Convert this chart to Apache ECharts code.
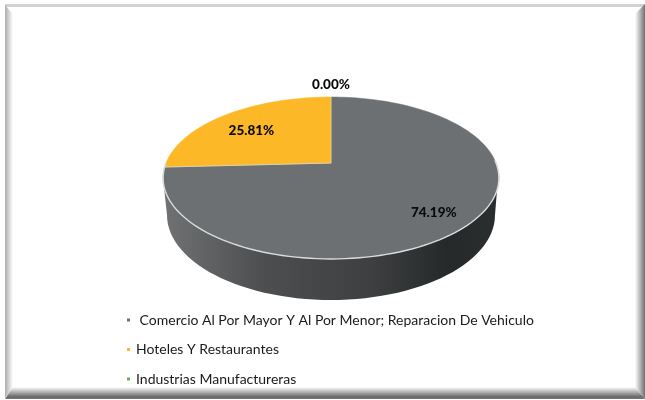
<!DOCTYPE html>
<html>
<head>
<meta charset="utf-8">
<style>html,body{margin:0;padding:0;background:#fff}#c{width:645px;height:400px}</style>
<script src="https://cdn.jsdelivr.net/npm/echarts@6/dist/echarts.min.js"></script>
</head>
<body>
<div id="c"></div>
<script>
const categories = [" Comercio Al Por Mayor Y Al Por Menor; Reparacion De Vehiculo", "Hoteles Y Restaurantes", "Industrias Manufactureras"];
const values = [74.19, 25.81, 0.00];
const colors = ["#6d7072", "#fdb827", "#70ad47"];
const total = values.reduce((a, b) => a + b, 0);

// tilted-disc projection
const APEX = [331, 163], BX = 165, BY = 78.2, K = -0.185, LOWER = {cx: 331, cy: 215, rx: 164, ry: 85};
function proj(deg, r) {
  const t = deg * Math.PI / 180, x = Math.sin(t), y = -Math.cos(t), d = 1 + K * y;
  return [APEX[0] + r * BX * x / d, APEX[1] + r * BY * y / d];
}
function arc(a0, a1) {
  const n = Math.max(2, Math.ceil(Math.abs(a1 - a0) / 2)), p = [];
  for (let i = 0; i <= n; i++) p.push(proj(a0 + (a1 - a0) * i / n, 1));
  return p;
}
function wallShape() {
  const p = [[163, 178]];
  for (let a = 180; a >= 0; a -= 3) {
    const t = a * Math.PI / 180;
    p.push([LOWER.cx + LOWER.rx * Math.cos(t), LOWER.cy + LOWER.ry * Math.sin(t)]);
  }
  p.push([498, 178]);
  return p;
}
function wallGradient() {
  return new echarts.graphic.LinearGradient(0, 0, 1, 0, [
    {offset: 0, color: "#707273"}, {offset: 0.3, color: "#4c4e50"},
    {offset: 0.62, color: "#3d3f41"}, {offset: 0.85, color: "#26292a"}, {offset: 1, color: "#2b2e2f"}
  ]);
}
function renderSlice(params, api) {
  const i = params.dataIndex, v = api.value(0);
  const start = values.slice(0, i).reduce((a, b) => a + b, 0) / total * 360;
  const sweep = v / total * 360, mid = start + sweep / 2;
  const children = [];
  if (i === 0) {
    children.push({type: "polygon", shape: {points: wallShape()}, style: {fill: wallGradient()}});
  }
  if (v > 0) {
    children.push({type: "polygon", shape: {points: [APEX].concat(arc(start, start + sweep))},
      style: {fill: api.visual("color") || colors[i], stroke: colors[i], lineWidth: 0.5}});
  }
  if (i === values.length - 1) {
    // light rim and slice separators, over all slices
    children.push({type: "polyline", shape: {points: arc(88, 270)}, style: {fill: null, stroke: "#d9dddb", lineWidth: 1.4}});
    let acc = 0;
    values.forEach(function (val) {
      if (val > 0 && acc > 0) {
        const e = proj(acc / total * 360, 1);
        children.push({type: "line", shape: {x1: APEX[0], y1: APEX[1], x2: e[0], y2: e[1]}, style: {stroke: "#d8d2b8", lineWidth: 1}});
      }
      acc += val;
    });
    children.push({type: "line", shape: {x1: APEX[0], y1: APEX[1], x2: APEX[0], y2: proj(0, 1)[1]}, style: {stroke: "#d8cfa8", lineWidth: 0.8}});
  }
  const pos = proj(mid, v > 0 ? 0.75 : 1.2);
  const label = {type: "text", z2: 100, style: {x: pos[0], y: pos[1] + (v > 0 ? 3 : 1), text: v.toFixed(2) + "%",
    align: "center", verticalAlign: "middle", fill: "#0a0a0a", font: "900 13.5px Lato"}};
  return {type: "group", children: children.concat([label])};
}

const chart = echarts.init(document.getElementById("c"), null, {renderer: "canvas"});
const grad = (x0, y0, x1, y1, c) => new echarts.graphic.LinearGradient(x0, y0, x1, y1, c);
chart.setOption({
  animation: false,
  backgroundColor: "#fff",
  legend: {
    orient: "vertical", left: 127, top: 313, itemWidth: 3, itemHeight: 3, itemGap: 15.5, icon: "rect",
    selectedMode: false, padding: 0, textStyle: {fontFamily: "Lato", fontSize: 14, color: "#1a1a1a", padding: [0, 0, 0, 1]},
    data: categories
  },
  graphic: [
    {type: "polygon", silent: true, shape: {points: [[5, 4], [645, 4], [645, 7], [5, 7]]}, style: {fill: "#d2d2d2"}},
    {type: "polygon", silent: true, shape: {points: [[5, 5], [13, 14], [13, 388], [5, 398]]},
      style: {fill: grad(0, 0, 1, 0, [{offset: 0, color: "#aeaeae"}, {offset: 1, color: "#ffffff"}])}},
    {type: "polygon", silent: true, shape: {points: [[5, 399], [13, 387], [635, 387], [645, 399]]},
      style: {fill: grad(0, 0, 0, 1, [{offset: 0, color: "#ffffff"}, {offset: 0.82, color: "#686868"}, {offset: 1, color: "#777777"}])}},
    {type: "polygon", silent: true, shape: {points: [[645, 4], [635, 14], [635, 387], [645, 399]]},
      style: {fill: grad(0, 0, 1, 0, [{offset: 0, color: "#ffffff"}, {offset: 1, color: "#6f6f6f"}])}}
  ],
  series: [
    {
      type: "custom", coordinateSystem: "none", renderItem: renderSlice, silent: true,
      data: values.map((v, i) => ({value: [v], itemStyle: {color: colors[i]}}))
    },
    {
      type: "pie", radius: [0, 0], center: [331, 163], silent: true, label: {show: false}, labelLine: {show: false},
      data: categories.map((n, i) => ({name: n, value: values[i], itemStyle: {color: colors[i]}}))
    }
  ]
});
</script>
</body>
</html>
